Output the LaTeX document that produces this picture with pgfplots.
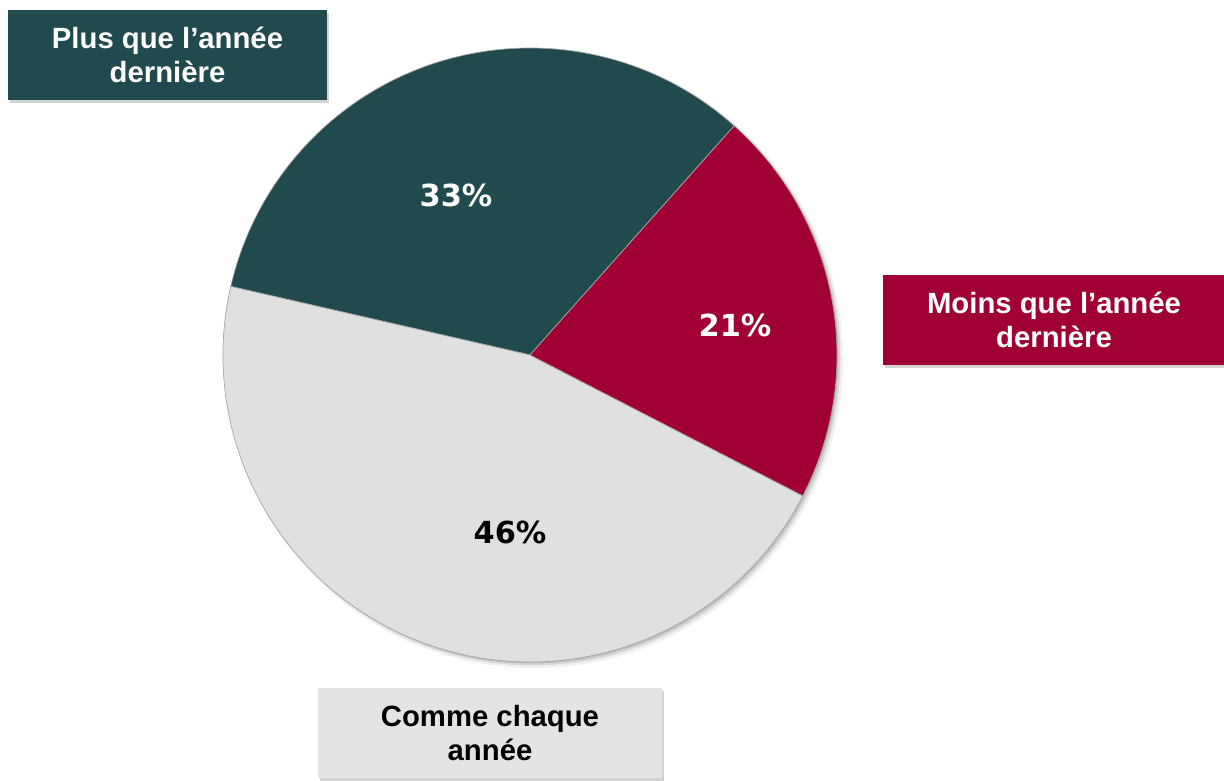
\documentclass[border=0pt]{standalone}
\usepackage{pgfplots}
\pgfplotsset{compat=1.18}
\usepackage{fontspec}
\setmainfont{Liberation Sans}
\newfontfamily\pctfont{DejaVu Sans}
\usetikzlibrary{shadows}
\definecolor{cTeal}{HTML}{214A4F}
\definecolor{cRed}{HTML}{A00034}
\definecolor{cGrey}{HTML}{E0E0E0}
\definecolor{cBoxGrey}{HTML}{E4E4E4}
\begin{document}
\begin{tikzpicture}
\path[use as bounding box] (0,0) rectangle (1224bp,781bp);
% slice shares (percent): Plus 33, Comme 46, Moins 21
\pgfmathsetmacro\aS{48.3}
\pgfmathsetmacro\aA{\aS+33*3.6}
\pgfmathsetmacro\aB{\aA+46*3.6}
\pgfmathsetmacro\aC{\aB+21*3.6}
\begin{axis}[at={(0,0)}, anchor=south west, width=1224bp, height=781bp,
  scale only axis, xmin=0, xmax=1224, ymin=0, ymax=781, hide axis, clip=false]
% soft shadow of the pie
\fill[black, opacity=0.06] (axis cs:534,422) circle[radius=309bp];
\fill[black, opacity=0.10] (axis cs:533,423) circle[radius=307.5bp];
\fill[black, opacity=0.12] (axis cs:532,424) circle[radius=306.5bp];
% slices
\filldraw[fill=cTeal, draw=gray!70, line width=0.7bp] (axis cs:530,426) -- ++(\aS:307bp) arc[start angle=\aS, end angle=\aA, radius=307bp] -- cycle;
\filldraw[fill=cGrey, draw=gray!70, line width=0.7bp] (axis cs:530,426) -- ++(\aA:307bp) arc[start angle=\aA, end angle=\aB, radius=307bp] -- cycle;
\filldraw[fill=cRed, draw=gray!70, line width=0.7bp] (axis cs:530,426) -- ++(\aB:307bp) arc[start angle=\aB, end angle=\aC, radius=307bp] -- cycle;
% percentages
\node[text=white, font=\pctfont\bfseries\fontsize{30.5}{36}\selectfont] at (axis cs:456,586) {33\%};
\node[text=white, font=\pctfont\bfseries\fontsize{30.5}{36}\selectfont] at (axis cs:735,456) {21\%};
\node[text=black, font=\pctfont\bfseries\fontsize{30.5}{36}\selectfont] at (axis cs:510,249) {46\%};
% category boxes
\node[fill=cTeal, text=white, minimum width=319bp, minimum height=90bp, inner sep=0pt,
  align=center, drop shadow={opacity=0.35, shadow xshift=2bp, shadow yshift=-3bp},
  font=\bfseries\fontsize{29.4}{34}\selectfont] at (axis cs:167.5,726) {Plus que l’année\\dernière};
\node[fill=cRed, text=white, minimum width=342bp, minimum height=90bp, inner sep=0pt,
  align=center, drop shadow={opacity=0.35, shadow xshift=2bp, shadow yshift=-3bp},
  font=\bfseries\fontsize{29.4}{34}\selectfont] at (axis cs:1054,461) {Moins que l’année\\dernière};
\node[fill=cBoxGrey, text=black, minimum width=344bp, minimum height=90bp, inner sep=0pt,
  align=center, drop shadow={opacity=0.35, shadow xshift=2bp, shadow yshift=-3bp},
  font=\bfseries\fontsize{29.4}{34}\selectfont] at (axis cs:490,48) {Comme chaque\\année};
\end{axis}
\end{tikzpicture}
\end{document}
